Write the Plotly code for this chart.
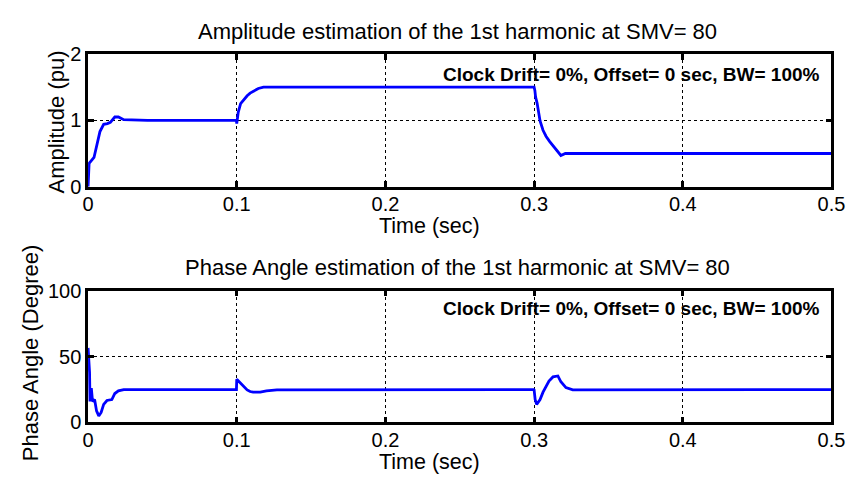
import plotly.graph_objects as go

# Amplitude (pu) vs time (sec)
amp_t = [0.0, 0.0007, 0.004, 0.006, 0.008, 0.0105, 0.013, 0.015, 0.018, 0.0204, 0.024, 0.04, 0.06, 0.08, 0.0998,
         0.1, 0.101, 0.1026, 0.105, 0.107, 0.109, 0.111, 0.1145, 0.118, 0.15, 0.2, 0.25, 0.2998,
         0.3, 0.3005, 0.301, 0.302, 0.303, 0.304, 0.306, 0.308, 0.3105, 0.314, 0.318, 0.321, 0.35, 0.4, 0.45, 0.5]
amp_v = [0.0, 0.35, 0.44, 0.62, 0.83, 0.94, 0.95, 0.97, 1.05, 1.05, 1.01, 1.0, 1.0, 1.0, 1.0,
         0.95, 1.12, 1.25, 1.32, 1.37, 1.41, 1.44, 1.48, 1.5, 1.5, 1.5, 1.5, 1.5,
         1.5, 1.45, 1.35, 1.26, 1.12, 0.99, 0.85, 0.76, 0.68, 0.58, 0.47, 0.5, 0.5, 0.5, 0.5, 0.5]

# Phase angle (degree) vs time (sec)
ph_t = [0.0, 0.001, 0.0013, 0.0022, 0.003, 0.0044, 0.0057, 0.0072, 0.0088, 0.0105, 0.0127, 0.016,
        0.018, 0.0204, 0.024, 0.05, 0.0998,
        0.1, 0.1026, 0.105, 0.107, 0.109, 0.111, 0.1158, 0.12, 0.127, 0.2, 0.2998,
        0.3, 0.3007, 0.3017, 0.304, 0.306, 0.3083, 0.310, 0.3127, 0.316, 0.318, 0.3214, 0.326, 0.4, 0.5]
ph_v = [56.6, 38, 16, 26, 16, 17.4, 8.8, 5, 7.6, 13.7, 16.7, 17.4,
        22, 24, 25, 25, 25,
        32.8, 29.7, 27, 24.75, 23.5, 23, 23, 24, 24.75, 25, 25,
        24.75, 17.4, 13.7, 17.4, 23, 28.4, 31.5, 34.6, 35.3, 30.9, 26.5, 24.75, 25, 25]

x_ticks = [0, 0.1, 0.2, 0.3, 0.4, 0.5]
x_labels = ["0", "0.1", "0.2", "0.3", "0.4", "0.5"]
amp_ticks = [0, 1, 2]
ph_ticks = [0, 50, 100]

title_top = "Amplitude estimation of the 1st harmonic at SMV= 80"
title_bot = "Phase Angle estimation of the 1st harmonic at SMV= 80"
note = "Clock Drift= 0%, Offset= 0 sec, BW= 100%"

W, H = 866, 486


def px(x):
    return x / W


def py(y):
    return 1 - y / H


xl, xr = 84, 845
top_y = (45, 184)
bot_y = (293, 431)

FONT = "Liberation Sans, Arial, sans-serif"

fig = go.Figure()
fig.add_trace(go.Scatter(x=amp_t, y=amp_v, mode="lines", line=dict(color="#0000ff", width=2.8),
                         xaxis="x", yaxis="y", showlegend=False))
fig.add_trace(go.Scatter(x=ph_t, y=ph_v, mode="lines", line=dict(color="#0000ff", width=2.8),
                         xaxis="x2", yaxis="y2", showlegend=False))

axis_common = dict(showline=True, linecolor="black", linewidth=2.5, mirror="allticks",
                   ticks="inside", ticklen=6, tickwidth=2.5, tickcolor="black",
                   showgrid=True, gridcolor="black", griddash="dot", gridwidth=1,
                   zeroline=False, tickfont=dict(family=FONT, size=20, color="black"))

fig.update_layout(
    width=W, height=H, margin=dict(l=0, r=0, t=0, b=0),
    paper_bgcolor="white", plot_bgcolor="white",
    xaxis=dict(domain=[px(xl), px(xr)], anchor="y", range=[0, 0.5], tickvals=x_ticks,
               ticktext=x_labels, ticklabelstandoff=-2, **axis_common),
    yaxis=dict(domain=[py(top_y[1]), py(top_y[0])], anchor="x", range=[0, 2],
               tickvals=amp_ticks, **axis_common),
    xaxis2=dict(domain=[px(xl), px(xr)], anchor="y2", range=[0, 0.5], tickvals=x_ticks,
                ticktext=x_labels, ticklabelstandoff=-2, **axis_common),
    yaxis2=dict(domain=[py(bot_y[1]), py(bot_y[0])], anchor="x2", range=[0, 100],
                tickvals=ph_ticks, **axis_common),
)

ann = []


def add(text, x, y, size, bold=False, angle=0, xanchor="center", yanchor="middle"):
    ann.append(dict(text=f"<b>{text}</b>" if bold else text, x=px(x), y=py(y), xref="paper", yref="paper",
                    showarrow=False, textangle=angle, xanchor=xanchor, yanchor=yanchor,
                    font=dict(family=FONT, size=size, color="black")))


add(title_top, 462, 21, 22)
add(title_bot, 462, 269, 22)
add("Time (sec)", 433, 225, 21.5)
add("Time (sec)", 433, 472, 21.5)
add("Amplitude (pu)", 52, 116, 22, angle=-90)
add("Phase Angle (Degree)", 25, 358, 22, angle=-90)
add(note, 835, 66, 19, bold=True, xanchor="right")
add(note, 835, 312, 19, bold=True, xanchor="right")
fig.update_layout(annotations=ann)

fig.write_html("out.html")
